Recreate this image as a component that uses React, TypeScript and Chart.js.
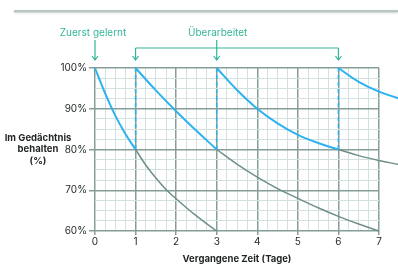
import { useEffect, useRef } from "react";
import { Chart, registerables } from "chart.js";
Chart.register(...registerables);

const W = 398;
const H = 266;

// Data (days, retention %)
const blue1X = [0, 0.25, 0.5, 0.75, 1];
const blue1Y = [100, 93.8, 88.3, 83.8, 80];
const gray1X = [1, 1.25, 1.5, 1.75, 2, 2.5, 3];
const gray1Y = [80, 76.2, 73, 70.2, 67.9, 63.7, 60];
const blue2X = [1, 1.5, 2, 2.5, 3];
const blue2Y = [100, 94.5, 89.4, 84.6, 80];
const gray2X = [3, 3.5, 4, 4.5, 5, 5.5, 6, 6.5, 7];
const gray2Y = [80, 76.4, 73.2, 70.4, 68, 65.7, 63.6, 61.7, 60];
const blue3X = [3, 3.5, 4, 4.5, 5, 5.5, 6];
const blue3Y = [100, 94.6, 90, 86.4, 83.6, 81.6, 80];
const blue4X = [6, 6.5, 7, 7.5];
const blue4Y = [100, 96.6, 94.2, 92.5];
const gray3X = [6, 6.5, 7, 7.5];
const gray3Y = [80, 78.5, 77.3, 76.3];
const reviewDays = [1, 3, 6];
const reviewFrom = [100, 100, 100];
const reviewTo = [80, 80, 80];
const firstDay = 0;

const firstLabel = "Zuerst gelernt";
const reviewLabel = "Überarbeitet";
const yTitle = ["Im Gedächtnis", "behalten", "(%)"];
const xTitle = "Vergangene Zeit (Tage)";

const BLUE = "#2cb3ef";
const GRAY = "#6f8e8a";
const TEAL = "#33b597";
const MAJOR = "#869d9a";
const MINOR = "#d2e1e0";
const TEXT = "#1f2323";
const FONT = "Inter, 'DejaVu Sans', sans-serif";

const pts = (xs: number[], ys: number[]) => xs.map((x, i) => ({ x, y: ys[i] }));

function curve(xs: number[], ys: number[], color: string, width: number) {
  return {
    data: pts(xs, ys),
    borderColor: color,
    borderWidth: width,
    pointRadius: 0,
    fill: false,
    tension: 0.4,
    clip: false as const,
  };
}

const annotPlugin = {
  id: "annot",
  afterDraw(chart: any) {
    const { ctx, scales } = chart;
    const x = scales.x;
    ctx.save();
    ctx.strokeStyle = TEAL;
    ctx.fillStyle = TEAL;
    ctx.lineWidth = 1.2;
    ctx.font = `10px ${FONT}`;
    ctx.textAlign = "center";
    ctx.textBaseline = "middle";
    const arrow = (px: number, y1: number, y2: number) => {
      ctx.beginPath();
      ctx.moveTo(px, y1);
      ctx.lineTo(px, y2);
      ctx.moveTo(px - 3, y2 - 4);
      ctx.lineTo(px, y2);
      ctx.lineTo(px + 3, y2 - 4);
      ctx.stroke();
    };
    const x0 = x.getPixelForValue(firstDay);
    ctx.fillText(firstLabel, x0 - 2, 33);
    arrow(x0, 40, 60);
    const rx = reviewDays.map((d) => x.getPixelForValue(d));
    const midIdx = Math.floor(rx.length / 2);
    ctx.beginPath();
    ctx.moveTo(rx[0], 48);
    ctx.lineTo(rx[rx.length - 1], 48);
    ctx.stroke();
    rx.forEach((px, i) => arrow(px, i === midIdx ? 40 : 48, 60));
    ctx.fillText(reviewLabel, rx[midIdx] + 1, 33);

    ctx.fillStyle = TEXT;
    ctx.font = `bold 9.5px ${FONT}`;
    yTitle.forEach((t, i) => ctx.fillText(t, 38, 138 + i * 11.5));
    ctx.restore();
  },
};

export default function App() {
  const ref = useRef<HTMLCanvasElement>(null);
  useEffect(() => {
    document.body.style.margin = "0";
    const dashed = reviewDays.map((d, i) => ({
      data: [
        { x: d, y: reviewFrom[i] },
        { x: d, y: reviewTo[i] },
      ],
      borderColor: BLUE,
      borderWidth: 1.6,
      borderDash: [4, 3],
      pointRadius: 0,
      fill: false,
    }));
    const chart = new Chart(ref.current!, {
      type: "line",
      data: {
        datasets: [
          ...dashed,
          curve(gray1X, gray1Y, GRAY, 1.5),
          curve(gray2X, gray2Y, GRAY, 1.5),
          curve(gray3X, gray3Y, GRAY, 1.5),
          curve(blue1X, blue1Y, BLUE, 2),
          curve(blue2X, blue2Y, BLUE, 2),
          curve(blue3X, blue3Y, BLUE, 2),
          curve(blue4X, blue4Y, BLUE, 2),
        ] as any,
      },
      options: {
        responsive: false,
        animation: false,
        devicePixelRatio: 1,
        layout: { padding: { left: 45, right: 19, top: 68, bottom: 0 } },
        plugins: { legend: { display: false }, tooltip: { enabled: false } },
        scales: {
          x: {
            type: "linear",
            min: 0,
            afterDataLimits: (s: any) => {
              s.max = 7;
            },
            afterFit: (s: any) => {
              s.height = 35;
            },
            ticks: {
              stepSize: 0.25,
              autoSkip: false,
              maxRotation: 0,
              padding: 1,
              color: TEXT,
              font: { family: FONT, size: 10 },
              callback: (v: any) => (Number.isInteger(v) ? String(v) : ""),
            },
            grid: {
              color: (c: any) => (Number.isInteger(c.tick?.value) ? MAJOR : MINOR),
              lineWidth: (c: any) => (Number.isInteger(c.tick?.value) ? 1.5 : 1),
              tickColor: (c: any) => (Number.isInteger(c.tick?.value) ? MAJOR : "rgba(0,0,0,0)"),
              tickLength: 4,
            },
            border: { display: false },
            title: {
              display: true,
              text: xTitle,
              color: TEXT,
              font: { family: FONT, size: 9.5, weight: "bold" },
              padding: { top: 0, bottom: 1 },
            },
          },
          y: {
            type: "linear",
            min: 60,
            max: 100,
            afterFit: (s: any) => {
              s.width = 50;
            },
            ticks: {
              stepSize: 2.5,
              autoSkip: false,
              padding: 2,
              color: TEXT,
              font: { family: FONT, size: 10 },
              callback: (v: any) => (Number(v) % 10 === 0 ? `${v}%` : ""),
            },
            grid: {
              color: (c: any) => (c.tick && c.tick.value % 10 === 0 ? MAJOR : MINOR),
              lineWidth: (c: any) => (c.tick && c.tick.value % 10 === 0 ? 1.5 : 1),
              tickColor: (c: any) => (c.tick && c.tick.value % 10 === 0 ? MAJOR : "rgba(0,0,0,0)"),
              tickLength: 6,
            },
            border: { display: false },
          },
        },
      } as any,
      plugins: [annotPlugin],
    });
    return () => chart.destroy();
  }, []);
  return (
    <div style={{ position: "relative", width: W, height: H, background: "#fff", overflow: "hidden" }}>
      <div
        style={{
          position: "absolute",
          left: 14,
          right: 0,
          top: 10,
          height: 2,
          background: "#b7c6c3",
          boxShadow: "0 1px 2px rgba(120,145,140,0.45)",
        }}
      />
      <canvas ref={ref} width={W} height={H} style={{ position: "absolute", left: 0, top: 0 }} />
    </div>
  );
}
